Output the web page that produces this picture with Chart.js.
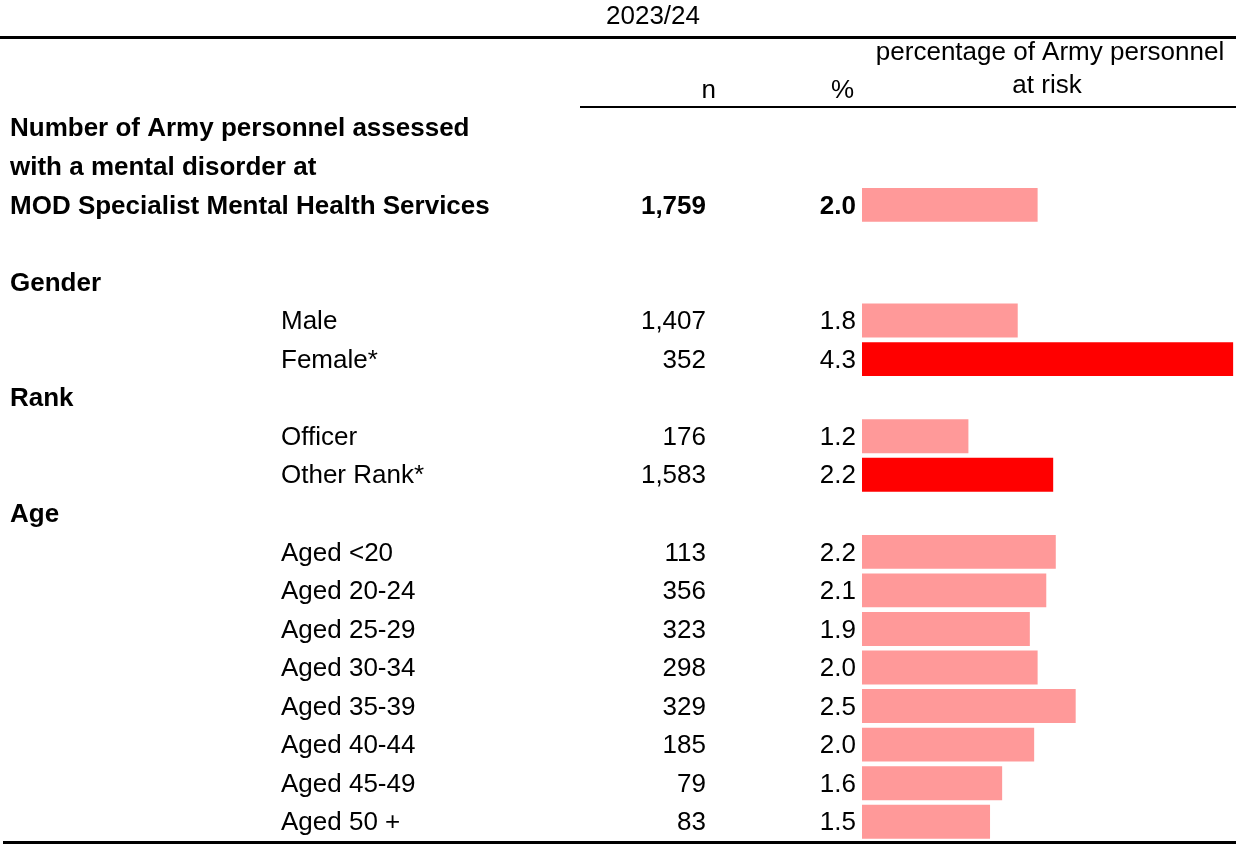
<!DOCTYPE html>
<html>
<head>
<meta charset="utf-8">
<script src="https://cdn.jsdelivr.net/npm/chart.js@4/dist/chart.umd.min.js"></script>
<style>
  html, body { margin: 0; padding: 0; background: #fff; }
  #wrap { width: 1236px; height: 844px; }
</style>
</head>
<body>
<div id="wrap"><canvas id="riskChart" width="1236" height="844"></canvas></div>
<script>
const period = '2023/24';
const totalLabel = ['Number of Army personnel assessed', 'with a mental disorder at', 'MOD Specialist Mental Health Services'];
const groups = ['Gender', 'Rank', 'Age'];
const groupItems = [
  ['Male', 'Female*'],
  ['Officer', 'Other Rank*'],
  ['Aged <20', 'Aged 20-24', 'Aged 25-29', 'Aged 30-34', 'Aged 35-39', 'Aged 40-44', 'Aged 45-49', 'Aged 50 +']
];
const totalCount = 1759;
const totalPct = 2.03;
const counts = [1407, 352, 176, 1583, 113, 356, 323, 298, 329, 185, 79, 83];
const percentages = [1.80, 4.29, 1.23, 2.21, 2.24, 2.13, 1.94, 2.03, 2.47, 1.99, 1.62, 1.48];
const significant = [false, true, false, true, false, false, false, false, false, false, false, false];

// build the row list (one category per text line)
const rows = [];
totalLabel.forEach((t) => rows.push({ kind: 'title', text: t }));
rows[rows.length - 1].n = totalCount;
rows[rows.length - 1].pct = totalPct;
rows[rows.length - 1].sig = false;
rows.push({ kind: 'blank' });
let k = 0;
groups.forEach((g, gi) => {
  rows.push({ kind: 'group', text: g });
  groupItems[gi].forEach(item => {
    rows.push({ kind: 'item', text: item, n: counts[k], pct: percentages[k], sig: significant[k] });
    k++;
  });
});

const labels = rows.map((r, i) => 'r' + i);
const barData = rows.map(r => (r.pct !== undefined ? r.pct : null));
const barColors = rows.map(r => (r.sig ? '#FF0000' : '#FF9999'));

const FONT = '"Liberation Sans", Arial, sans-serif';
const SIZE = '26px ';

const tablePlugin = {
  id: 'tableText',
  afterDraw(chart) {
    const ctx = chart.ctx;
    const y = chart.scales.y;
    ctx.save();
    ctx.fillStyle = '#000';
    ctx.textBaseline = 'middle';

    // header
    ctx.font = SIZE + FONT;
    ctx.textAlign = 'left';
    ctx.fillText(period, 606, 17);
    ctx.textAlign = 'center';
    ctx.fillText('percentage of Army personnel', 1050, 53);
    ctx.fillText('at risk', 1047, 86);
    ctx.textAlign = 'right';
    ctx.fillText('n', 716, 91);
    ctx.fillText('%', 854, 91);

    rows.forEach((r, i) => {
      const py = y.getPixelForValue(i) + 1.5;
      if (r.kind === 'title' || r.kind === 'group') {
        ctx.font = 'bold ' + SIZE + FONT;
        ctx.textAlign = 'left';
        ctx.fillText(r.text, 10, py);
      } else if (r.kind === 'item') {
        ctx.font = SIZE + FONT;
        ctx.textAlign = 'left';
        ctx.fillText(r.text, 281, py);
      }
      if (r.n !== undefined) {
        ctx.font = (r.kind === 'title' ? 'bold ' : '') + SIZE + FONT;
        ctx.textAlign = 'right';
        ctx.fillText(r.n.toLocaleString('en-GB'), 706, py);
        ctx.fillText(r.pct.toFixed(1), 856, py);
      }
    });

    // rules
    ctx.fillStyle = '#000';
    ctx.fillRect(0, 36, 1236, 3);
    ctx.fillRect(580, 106, 656, 2);
    ctx.fillRect(3, 841, 1233, 3);
    ctx.restore();
  }
};

new Chart(document.getElementById('riskChart'), {
  type: 'bar',
  data: {
    labels: labels,
    datasets: [{
      data: barData,
      backgroundColor: barColors,
      borderWidth: 0,
      barPercentage: 0.88,
      categoryPercentage: 1.0
    }]
  },
  options: {
    indexAxis: 'y',
    responsive: false,
    animation: false,
    layout: { padding: { left: 862, right: 2, top: 108.5, bottom: 3 } },
    scales: {
      x: { display: false, min: 0, max: 4.3 },
      y: { display: false }
    },
    plugins: {
      legend: { display: false },
      tooltip: { enabled: false }
    }
  },
  plugins: [tablePlugin]
});
</script>
</body>
</html>
